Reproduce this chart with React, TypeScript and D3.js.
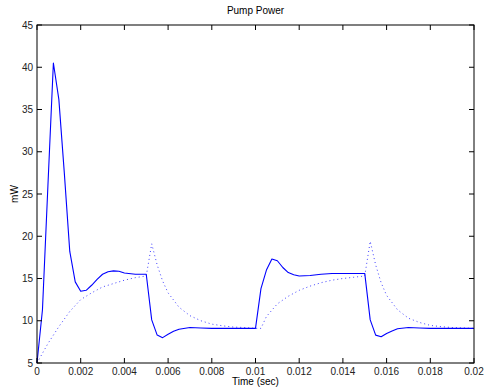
import React from 'react'
import * as d3 from 'd3'

// solid trace
const solidT = [0, 0.00025, 0.0005, 0.00075, 0.001, 0.00125, 0.0015, 0.00175, 0.002, 0.00225, 0.0025, 0.00275, 0.003, 0.00325, 0.0035, 0.00375, 0.004, 0.0045, 0.005,
  0.00525, 0.0055, 0.00575, 0.006, 0.00625, 0.0065, 0.007, 0.0075, 0.008, 0.009, 0.01,
  0.01025, 0.0105, 0.01075, 0.011, 0.01125, 0.0115, 0.01175, 0.012, 0.0125, 0.013, 0.0135, 0.014, 0.015,
  0.01525, 0.0155, 0.01575, 0.016, 0.01625, 0.0165, 0.017, 0.0175, 0.018, 0.019, 0.02]
const solidY = [5, 11.3, 26, 40.5, 36.2, 27.5, 18.2, 14.6, 13.5, 13.6, 14.2, 14.9, 15.5, 15.8, 15.9, 15.85, 15.65, 15.5, 15.5,
  10.1, 8.3, 8.0, 8.4, 8.75, 9.0, 9.2, 9.15, 9.1, 9.1, 9.1,
  13.8, 16.0, 17.3, 17.1, 16.3, 15.7, 15.45, 15.3, 15.35, 15.5, 15.6, 15.6, 15.6,
  10.1, 8.3, 8.1, 8.5, 8.8, 9.05, 9.2, 9.15, 9.1, 9.1, 9.1]

// dotted trace
const dotT = [0, 0.0005, 0.001, 0.0015, 0.002, 0.0025, 0.003, 0.0035, 0.004, 0.0045, 0.005,
  0.00525, 0.0055, 0.00575, 0.006, 0.0065, 0.007, 0.0075, 0.008, 0.0085, 0.009, 0.0095, 0.01,
  0.01025, 0.0105, 0.011, 0.0115, 0.012, 0.0125, 0.013, 0.0135, 0.014, 0.0145, 0.015,
  0.01525, 0.0155, 0.01575, 0.016, 0.0165, 0.017, 0.0175, 0.018, 0.0185, 0.019, 0.0195, 0.02]
const dotY = [5, 7.3, 9.3, 11.1, 12.5, 13.3, 14.0, 14.4, 14.8, 15.1, 15.3,
  19.1, 16.6, 14.7, 13.3, 11.6, 10.6, 10.0, 9.6, 9.4, 9.25, 9.2, 9.1,
  9.1, 10.5, 12.0, 12.9, 13.6, 14.1, 14.5, 14.8, 15.0, 15.15, 15.3,
  19.4, 16.6, 14.5, 13.0, 11.3, 10.3, 9.8, 9.45, 9.3, 9.2, 9.15, 9.1]

const xTicks = [0, 0.002, 0.004, 0.006, 0.008, 0.01, 0.012, 0.014, 0.016, 0.018, 0.02]
const yTicks = [5, 10, 15, 20, 25, 30, 35, 40, 45]

export default function App() {
  const W = 487, H = 389
  const left = 37, right = 474, top = 25, bottom = 363
  const x = d3.scaleLinear().domain([0, 0.02]).range([left, right])
  const y = d3.scaleLinear().domain([5, 45]).range([bottom, top])
  const solidPath = d3.line<number>().x(d => x(d)).y((d, i) => y(solidY[i]))(solidT) || ''
  const dotPath = d3.line<number>().x(d => x(d)).y((d, i) => y(dotY[i]))(dotT) || ''
  const font = 'Liberation Sans, Arial, Helvetica, sans-serif'
  const tl = 5

  return (
    <svg width={W} height={H} style={{position: 'absolute', left: 0, top: 0, background: '#fff'}}
      fontFamily={font}>
      <rect x={0} y={0} width={W} height={H} fill="#fff" />
      <path d={dotPath} fill="none" stroke="#0000ff" strokeWidth={1} strokeDasharray="1,3" opacity={0.75} />
      <path d={solidPath} fill="none" stroke="#0000ff" strokeWidth={1.1} strokeLinejoin="round" />
      <rect x={left} y={top} width={right - left} height={bottom - top} fill="none" stroke="#000" strokeWidth={1} />
      {xTicks.map(t => (
        <g key={'x' + t}>
          <line x1={x(t)} x2={x(t)} y1={bottom} y2={bottom - tl} stroke="#000" />
          <line x1={x(t)} x2={x(t)} y1={top} y2={top + tl} stroke="#000" />
          <text x={x(t)} y={bottom + 12} fontSize={10} textAnchor="middle" fill="#222">{t === 0 ? '0' : String(t)}</text>
        </g>
      ))}
      {yTicks.map(v => (
        <g key={'y' + v}>
          <line x1={left} x2={left + tl} y1={y(v)} y2={y(v)} stroke="#000" />
          <line x1={right} x2={right - tl} y1={y(v)} y2={y(v)} stroke="#000" />
          <text x={left - 4} y={y(v) + 3.5} fontSize={10} textAnchor="end" fill="#222">{v}</text>
        </g>
      ))}
      <text x={(left + right) / 2} y={14} fontSize={10} textAnchor="middle" fill="#000">Pump Power</text>
      <text x={(left + right) / 2} y={385} fontSize={10} textAnchor="middle" fill="#000">Time (sec)</text>
      <text transform={`translate(18,${(top + bottom) / 2}) rotate(-90)`} fontSize={10} textAnchor="middle" fill="#000">mW</text>
    </svg>
  )
}
